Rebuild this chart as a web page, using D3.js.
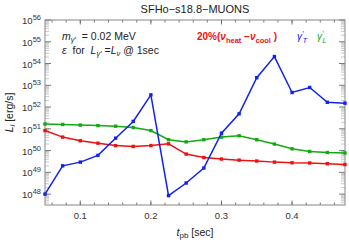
<!DOCTYPE html>
<html>
<head>
<meta charset="utf-8">
<script src="https://cdn.jsdelivr.net/npm/d3@7"></script>
<style>
  body { margin: 0; background: #fff; }
  text { font-family: "Liberation Sans", Arial, sans-serif; white-space: pre; }
</style>
</head>
<body>
<div id="chart"></div>
<script>
// time post bounce [sec]
const tpb = [0.05, 0.075, 0.1, 0.125, 0.15, 0.175, 0.2, 0.225, 0.25, 0.275,
             0.3, 0.325, 0.35, 0.375, 0.4, 0.425, 0.45, 0.475];
// log10 luminosities [erg/s]
const logHeatCool = [50.92, 50.62, 50.45, 50.34, 50.23, 50.19, 50.23, 50.31, 49.84, 49.68,
                     49.61, 49.56, 49.52, 49.47, 49.44, 49.43, 49.40, 49.36];
const logGammaT = [48.0, 49.3, 49.47, 49.78, 50.57, 51.34, 52.56, 47.93, 48.51, 49.2,
                   50.8, 51.69, 53.35, 54.32, 52.67, 52.9, 52.22, 52.18];
const logGammaL = [51.22, 51.2, 51.17, 51.15, 51.12, 51.06, 50.92, 50.5, 50.4, 50.5,
                   50.62, 50.68, 50.5, 50.3, 50.08, 49.96, 49.91, 49.89];
const xTicks = [0.1, 0.2, 0.3, 0.4];
const yDecades = [48, 49, 50, 51, 52, 53, 54, 55, 56];

const W = 349, H = 245;
const margin = {top: 20, right: 4, bottom: 40, left: 45};
const width = W - margin.left - margin.right;
const height = H - margin.top - margin.bottom;

const x = d3.scaleLinear().domain([0.05, 0.475]).range([0, width]);
const y = d3.scaleLog().domain([Math.pow(10, 47.5), 1e56]).range([height, 0]);

const svg = d3.select("#chart").append("svg")
  .attr("width", W).attr("height", H);

svg.append("text")
  .attr("x", margin.left + width / 2).attr("y", 13)
  .attr("text-anchor", "middle").attr("font-size", 11).attr("fill", "#222")
  .text("SFHo\u2212s18.8\u2212MUONS");

const g = svg.append("g")
  .attr("transform", "translate(" + margin.left + "," + margin.top + ")");

// minor log ticks on left and right
const minors = [];
for (let d = 47; d < 56; d++) {
  for (let k = 2; k <= 9; k++) {
    const v = k * Math.pow(10, d);
    if (v >= y.domain()[0] && v <= y.domain()[1]) minors.push(v);
  }
}
[0, width].forEach((edge) => {
  const dir = edge === 0 ? 1 : -1;
  g.selectAll(null).data(minors).enter().append("line")
    .attr("x1", edge).attr("x2", edge + dir * 4)
    .attr("y1", (d) => y(d)).attr("y2", (d) => y(d))
    .attr("stroke", "#bbb").attr("stroke-width", 0.8);
  g.selectAll(null).data(yDecades).enter().append("line")
    .attr("x1", edge).attr("x2", edge + dir * 6)
    .attr("y1", (d) => y(Math.pow(10, d))).attr("y2", (d) => y(Math.pow(10, d)))
    .attr("stroke", "#555").attr("stroke-width", 0.8);
});

// x ticks on bottom and top
const xMinor = d3.range(0.06, 0.475, 0.02);
[height, 0].forEach((edge) => {
  const dir = edge === 0 ? 1 : -1;
  g.selectAll(null).data(xMinor).enter().append("line")
    .attr("x1", (d) => x(d)).attr("x2", (d) => x(d))
    .attr("y1", edge).attr("y2", edge + dir * 2.5)
    .attr("stroke", "#555").attr("stroke-width", 0.8);
  g.selectAll(null).data(xTicks).enter().append("line")
    .attr("x1", (d) => x(d)).attr("x2", (d) => x(d))
    .attr("y1", edge).attr("y2", edge + dir * 4.5)
    .attr("stroke", "#555").attr("stroke-width", 0.8);
});

g.append("rect")
  .attr("width", width).attr("height", height)
  .attr("fill", "none").attr("stroke", "#888").attr("stroke-width", 1);

// tick labels
g.selectAll(null).data(xTicks).enter().append("text")
  .attr("x", (d) => x(d)).attr("y", height + 14)
  .attr("text-anchor", "middle").attr("font-size", 9.5).attr("fill", "#333")
  .text((d) => d3.format(".1f")(d));

const yl = g.selectAll(null).data(yDecades).enter().append("text")
  .attr("x", -4).attr("y", (d) => y(Math.pow(10, d)) + 4)
  .attr("text-anchor", "end").attr("font-size", 9.5).attr("fill", "#333");
yl.append("tspan").text("10");
yl.append("tspan").attr("dy", -4).attr("font-size", 7.5).text((d) => d);

// axis labels
const ylab = svg.append("text")
  .attr("transform", "translate(13," + (margin.top + height / 2) + ") rotate(-90)")
  .attr("text-anchor", "middle").attr("font-size", 10.5).attr("fill", "#222");
ylab.append("tspan").attr("font-style", "italic").text("L");
ylab.append("tspan").attr("font-style", "italic").attr("font-size", 8).attr("dy", 2).text("i");
ylab.append("tspan").attr("dy", -2).text(" [erg/s]");

const xlab = svg.append("text")
  .attr("x", margin.left + width / 2).attr("y", 236)
  .attr("text-anchor", "middle").attr("font-size", 10.5).attr("fill", "#222");
xlab.append("tspan").attr("font-style", "italic").text("t");
xlab.append("tspan").attr("font-size", 8).attr("dy", 2).text("pb");
xlab.append("tspan").attr("dy", -2).text(" [sec]");

// series
const series = [
  {vals: logHeatCool, color: "#ee1111"},
  {vals: logGammaL, color: "#11aa11"},
  {vals: logGammaT, color: "#1122ee"}
];
const line = d3.line()
  .x((d) => x(d[0]))
  .y((d) => y(Math.pow(10, d[1])));

series.forEach((s) => {
  const pts = tpb.map((t, i) => [t, s.vals[i]]);
  g.append("path").datum(pts)
    .attr("fill", "none").attr("stroke", s.color).attr("stroke-width", 1.5)
    .attr("d", line);
  g.selectAll(null).data(pts).enter().append("rect")
    .attr("x", (d) => x(d[0]) - 1.7).attr("y", (d) => y(Math.pow(10, d[1])) - 1.7)
    .attr("width", 3.4).attr("height", 3.4)
    .attr("fill", s.color);
});

// annotations
const a1 = g.append("text").attr("x", 17).attr("y", 20)
  .attr("font-size", 10.5).attr("fill", "#222");
a1.append("tspan").attr("font-style", "italic").text("m");
a1.append("tspan").attr("font-style", "italic").attr("font-size", 7.5).attr("dy", 2).text("\u03b3\u2032");
a1.append("tspan").attr("dy", -2).text("  = 0.02 MeV");

const a2 = g.append("text").attr("x", 17).attr("y", 34)
  .attr("font-size", 10.5).attr("fill", "#222");
a2.append("tspan").attr("font-style", "italic").text("\u03b5");
a2.append("tspan").text("  for  ");
a2.append("tspan").attr("font-style", "italic").text("L");
a2.append("tspan").attr("font-style", "italic").attr("font-size", 7.5).attr("dy", 2).text("\u03b3\u2032");
a2.append("tspan").attr("dy", -2).text(" =");
a2.append("tspan").attr("font-style", "italic").text("L");
a2.append("tspan").attr("font-style", "italic").attr("font-size", 7.5).attr("dy", 2).text("\u03bd");
a2.append("tspan").attr("dy", -2).text(" @ 1sec");

// legend
const l1 = g.append("text").attr("x", 152).attr("y", 20)
  .attr("font-size", 10).attr("font-weight", "bold").attr("fill", "#ee1111");
l1.append("tspan").text("20%(");
l1.append("tspan").attr("font-style", "italic").text("\u03bd");
l1.append("tspan").attr("font-size", 7.5).attr("dy", 3).text("heat");
l1.append("tspan").attr("dy", -3).text(" \u2212");
l1.append("tspan").attr("font-style", "italic").text("\u03bd");
l1.append("tspan").attr("font-size", 7.5).attr("dy", 3).text("cool");
l1.append("tspan").attr("dy", -3).text(" )");

const l2 = g.append("text").attr("x", 252).attr("y", 20)
  .attr("font-size", 10).attr("font-style", "italic").attr("fill", "#1122ee");
l2.append("tspan").text("\u03b3");
l2.append("tspan").attr("font-size", 7.5).attr("dy", -4).text("\u2032");
l2.append("tspan").attr("font-size", 7.5).attr("dy", 7).attr("dx", -1).text("T");

const l3 = g.append("text").attr("x", 272).attr("y", 20)
  .attr("font-size", 10).attr("font-style", "italic").attr("fill", "#11aa11");
l3.append("tspan").text("\u03b3");
l3.append("tspan").attr("font-size", 7.5).attr("dy", -4).text("\u2032");
l3.append("tspan").attr("font-size", 7.5).attr("dy", 7).attr("dx", -1).text("L");
</script>
</body>
</html>
